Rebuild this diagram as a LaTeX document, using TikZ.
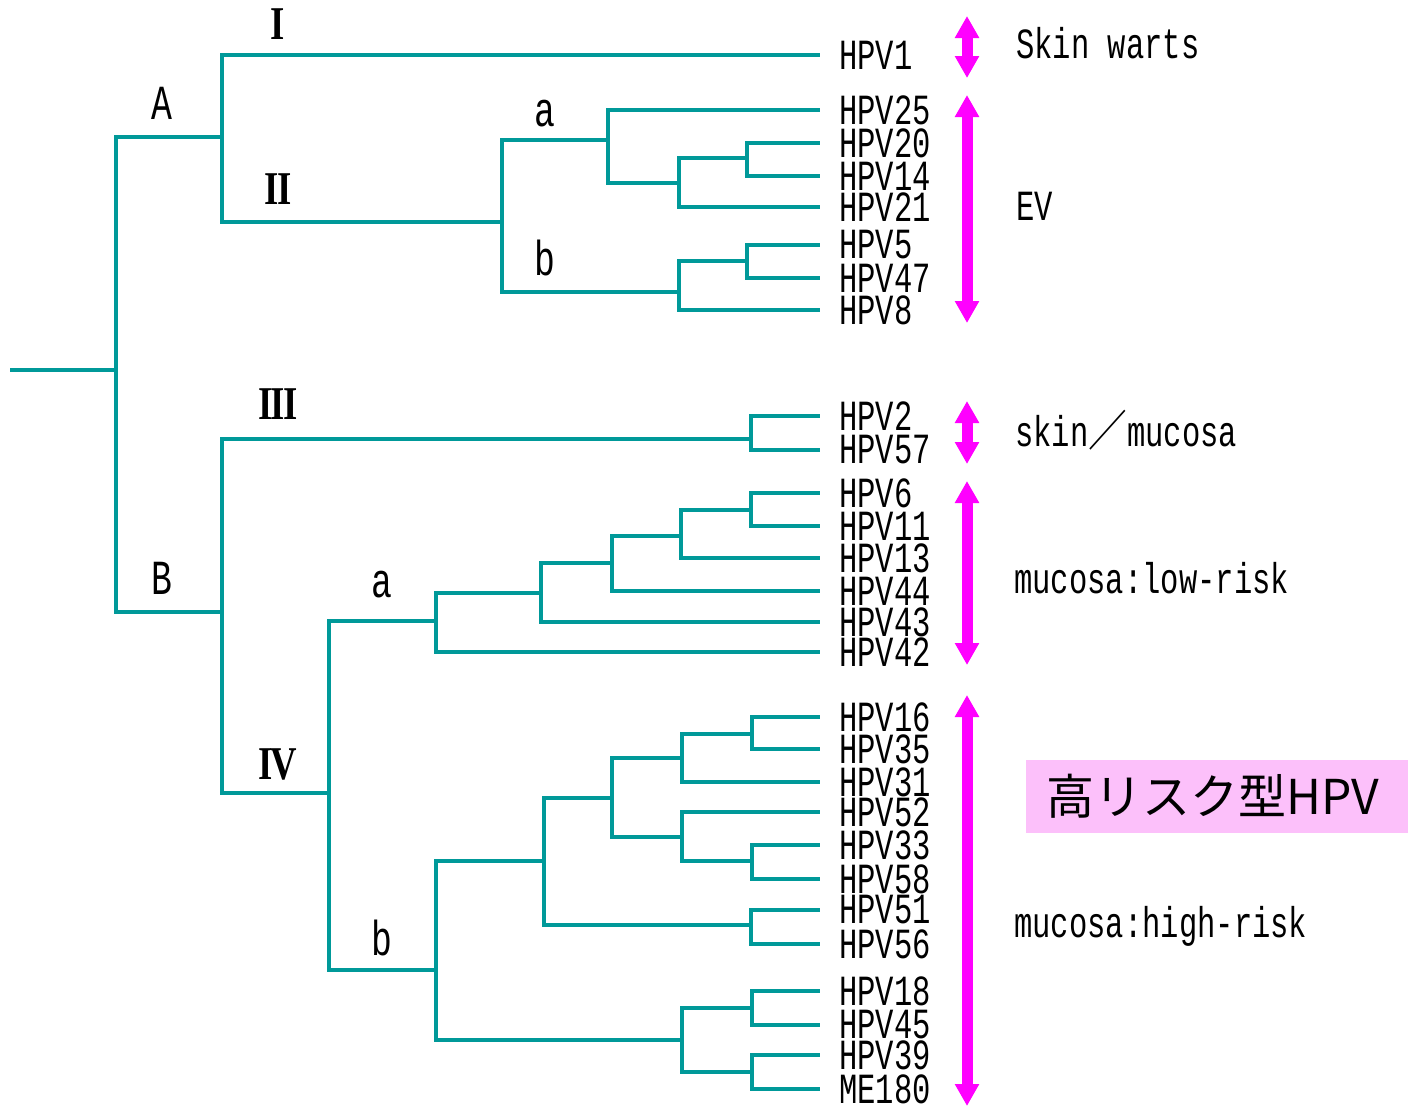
\documentclass[tikz,border=0pt]{standalone}
\usepackage{fontspec}
\newfontfamily\monof[FakeStretch=0.71]{Liberation Mono}
\newfontfamily\romf[FakeStretch=0.78,LetterSpace=-4]{Liberation Serif}
\newfontfamily\cjkf{Noto Sans CJK JP}
\newfontfamily\cjkslash[FakeStretch=0.9]{Noto Sans CJK JP}
\usetikzlibrary{arrows.meta}
\definecolor{treecol}{RGB}{0,153,153}
\definecolor{magcol}{RGB}{255,0,255}
\definecolor{pinkcol}{RGB}{252,192,250}
\begin{document}
\begin{tikzpicture}[x=1pt,y=-1pt,
  br/.style={draw=treecol, line width=4.5pt, line join=miter},
  leaf/.style={anchor=west, inner xsep=19pt, inner ysep=0pt, font=\monof\fontsize{43}{43}\selectfont},
  clade/.style={anchor=base, inner sep=0pt, font=\monof\fontsize{49}{49}\selectfont},
  rom/.style={anchor=base, inner sep=0pt, font=\romf\bfseries\fontsize{47}{47}\selectfont},
  rlab/.style={anchor=base west, inner sep=0pt, font=\monof\fontsize{43}{43}\selectfont},
  marr/.style={draw=magcol, line width=11pt, {Triangle[width=23pt,length=22pt]}-{Triangle[width=23pt,length=22pt]}}
]
\useasboundingbox (0,0) rectangle (1408,1109);

% ---------- leaves ----------
\node[leaf] (h1)  at (820,55)  {HPV1};
\node[leaf] (h25) at (820,110) {HPV25};
\node[leaf] (h20) at (820,143) {HPV20};
\node[leaf] (h14) at (820,176) {HPV14};
\node[leaf] (h21) at (820,207) {HPV21};
\node[leaf] (h5)  at (820,245) {HPV5};
\node[leaf] (h47) at (820,278) {HPV47};
\node[leaf] (h8)  at (820,310) {HPV8};
\node[leaf] (h2)  at (820,416) {HPV2};
\node[leaf] (h57) at (820,450) {HPV57};
\node[leaf] (h6)  at (820,493) {HPV6};
\node[leaf] (h11) at (820,526) {HPV11};
\node[leaf] (h13) at (820,558) {HPV13};
\node[leaf] (h44) at (820,591) {HPV44};
\node[leaf] (h43) at (820,622) {HPV43};
\node[leaf] (h42) at (820,652) {HPV42};
\node[leaf] (h16) at (820,717) {HPV16};
\node[leaf] (h35) at (820,749) {HPV35};
\node[leaf] (h31) at (820,782) {HPV31};
\node[leaf] (h52) at (820,812) {HPV52};
\node[leaf] (h33) at (820,845) {HPV33};
\node[leaf] (h58) at (820,879) {HPV58};
\node[leaf] (h51) at (820,910) {HPV51};
\node[leaf] (h56) at (820,944) {HPV56};
\node[leaf] (h18) at (820,991) {HPV18};
\node[leaf] (h45) at (820,1025) {HPV45};
\node[leaf] (h39) at (820,1055) {HPV39};
\node[leaf] (me)  at (820,1089) {ME180};

% ---------- junctions ----------
\coordinate (r0) at (10,370);
\coordinate (R)  at (116,370);
\coordinate (A)  at (222,137);
\coordinate (B)  at (222,612);
\coordinate (II) at (502,222);
\coordinate (IIa) at (608,140);
\coordinate (IIb) at (679,292);
\coordinate (j1) at (679,183);
\coordinate (j2) at (747,158);
\coordinate (j3) at (747,261);
\coordinate (III) at (751,439);
\coordinate (IV) at (329,793);
\coordinate (IVa) at (436,621);
\coordinate (IVb) at (436,970);
\coordinate (k1) at (541,593);
\coordinate (k2) at (612,563);
\coordinate (k3) at (681,536);
\coordinate (k4) at (751,510);
\coordinate (m1) at (544,861);
\coordinate (m2) at (612,798);
\coordinate (m3) at (682,758);
\coordinate (m4) at (751,925);
\coordinate (m5) at (682,1040);
\coordinate (m6) at (682,837);
\coordinate (m7) at (752,734);
\coordinate (m8) at (752,861);
\coordinate (m9) at (752,1008);
\coordinate (m10) at (752,1072);

% ---------- branches ----------
\draw[br] (r0) -- (R);
\draw[br] (R) |- (A);  \draw[br] (R) |- (B);
\draw[br] (A) |- (h1.west);  \draw[br] (A) |- (II);
\draw[br] (II) |- (IIa);  \draw[br] (II) |- (IIb);
\draw[br] (IIa) |- (h25.west);  \draw[br] (IIa) |- (j1);
\draw[br] (j1) |- (j2);  \draw[br] (j1) |- (h21.west);
\draw[br] (j2) |- (h20.west);  \draw[br] (j2) |- (h14.west);
\draw[br] (IIb) |- (j3);  \draw[br] (IIb) |- (h8.west);
\draw[br] (j3) |- (h5.west);  \draw[br] (j3) |- (h47.west);
\draw[br] (B) |- (III);  \draw[br] (B) |- (IV);
\draw[br] (III) |- (h2.west);  \draw[br] (III) |- (h57.west);
\draw[br] (IV) |- (IVa);  \draw[br] (IV) |- (IVb);
\draw[br] (IVa) |- (k1);  \draw[br] (IVa) |- (h42.west);
\draw[br] (k1) |- (k2);  \draw[br] (k1) |- (h43.west);
\draw[br] (k2) |- (k3);  \draw[br] (k2) |- (h44.west);
\draw[br] (k3) |- (k4);  \draw[br] (k3) |- (h13.west);
\draw[br] (k4) |- (h6.west);  \draw[br] (k4) |- (h11.west);
\draw[br] (IVb) |- (m1);  \draw[br] (IVb) |- (m5);
\draw[br] (m1) |- (m2);  \draw[br] (m1) |- (m4);
\draw[br] (m2) |- (m3);  \draw[br] (m2) |- (m6);
\draw[br] (m3) |- (m7);  \draw[br] (m3) |- (h31.west);
\draw[br] (m7) |- (h16.west);  \draw[br] (m7) |- (h35.west);
\draw[br] (m6) |- (h52.west);  \draw[br] (m6) |- (m8);
\draw[br] (m8) |- (h33.west);  \draw[br] (m8) |- (h58.west);
\draw[br] (m4) |- (h51.west);  \draw[br] (m4) |- (h56.west);
\draw[br] (m5) |- (m9);  \draw[br] (m5) |- (m10);
\draw[br] (m9) |- (h18.west);  \draw[br] (m9) |- (h45.west);
\draw[br] (m10) |- (h39.west);  \draw[br] (m10) |- (me.west);

% ---------- clade labels ----------
\node[rom] (lI)   at (278,39)  {I};
\node[clade] (lA) at (162,119) {A};
\node[clade] (la1) at (545,126) {a};
\node[rom] (lII)  at (278,204) {II};
\node[clade] (lb1) at (545,275) {b};
\node[rom] (lIII) at (278,419) {III};
\node[clade] (lB) at (162,594) {B};
\node[clade] (la2) at (382,597) {a};
\node[rom] (lIV)  at (278,779) {IV};
\node[clade] (lb2) at (382,955) {b};

% ---------- magenta arrows ----------
\coordinate (a1t) at (967,16);   \coordinate (a1b) at (967,78);
\coordinate (a2t) at (967,95);   \coordinate (a2b) at (967,323);
\coordinate (a3t) at (967,401);  \coordinate (a3b) at (967,464);
\coordinate (a4t) at (967,481);  \coordinate (a4b) at (967,665);
\coordinate (a5t) at (967,695);  \coordinate (a5b) at (967,1106);
\draw[marr] (a1t) -- (a1b);
\draw[marr] (a2t) -- (a2b);
\draw[marr] (a3t) -- (a3b);
\draw[marr] (a4t) -- (a4b);
\draw[marr] (a5t) -- (a5b);

% ---------- right-hand labels ----------
\node[rlab] (sw) at (1016,58)  {Skin warts};
\node[rlab] (ev) at (1016,220) {EV};
\node[rlab] (sm) at (1015,446) {skin{\cjkslash\fontsize{43}{43}\selectfont ／}mucosa};
\node[rlab] (lr) at (1014,593) {mucosa:low-risk};
\node[rlab] (hr) at (1014,937) {mucosa:high-risk};
\node[fill=pinkcol, minimum width=382pt, minimum height=73pt, inner sep=0pt,
      font=\cjkf\fontsize{48}{48}\selectfont] (hrbox) at (1217,796.5) {\hspace*{-8pt}高リスク型HPV};
\end{tikzpicture}
\end{document}
